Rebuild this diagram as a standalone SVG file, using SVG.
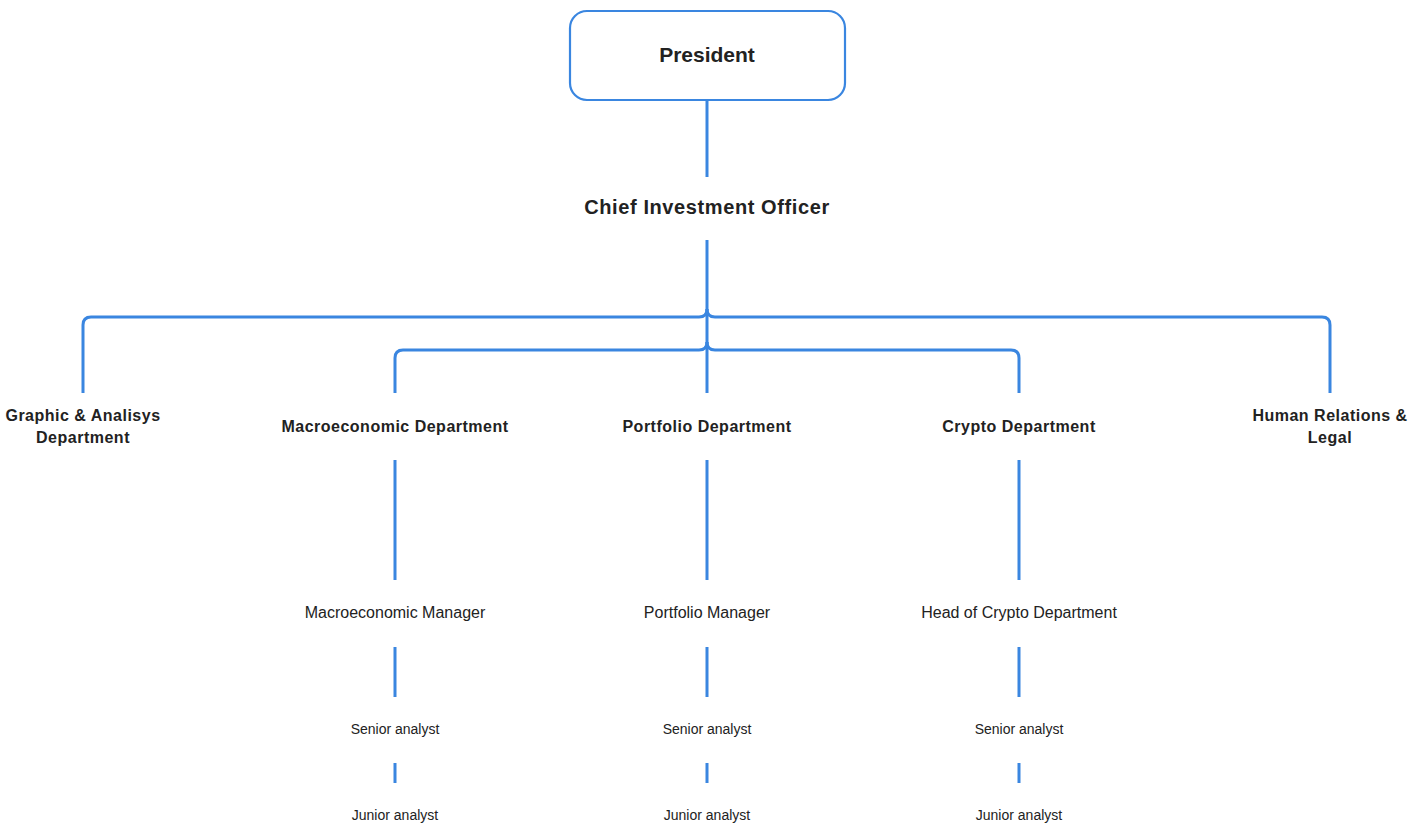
<svg xmlns="http://www.w3.org/2000/svg" width="1427" height="827" viewBox="0 0 1427 827">
<style>
.c{fill:none;stroke:#3a86e0;stroke-width:3;stroke-linecap:butt}
.t{font-family:"Liberation Sans",Arial,sans-serif;fill:#222;text-anchor:middle}
.b{font-weight:bold}
.d{font-size:16px;letter-spacing:0.5px}
.m{font-size:16px}
.s{font-size:14px}
</style>
<rect width="1427" height="827" fill="#fff"/>
<g id="connectors">
<path class="c" d="M707,101 V177"/>
<path class="c" d="M707,240 V393"/>
<path class="c" d="M707,309 Q707,317 699,317 H91 Q83,317 83,325 V393"/>
<path class="c" d="M707,309 Q707,317 715,317 H1322 Q1330,317 1330,325 V393"/>
<path class="c" d="M707,342 Q707,350 699,350 H403 Q395,350 395,358 V393"/>
<path class="c" d="M707,342 Q707,350 715,350 H1011 Q1019,350 1019,358 V393"/>
<path class="c" d="M395,460 V580 M707,460 V580 M1019,460 V580"/>
<path class="c" d="M395,647 V697 M707,647 V697 M1019,647 V697"/>
<path class="c" d="M395,763 V783 M707,763 V783 M1019,763 V783"/>
</g>
<g id="president">
<rect x="570" y="11" width="275" height="89" rx="17" fill="#fff" stroke="#3a86e0" stroke-width="2.2"/>
<text class="t b" x="707" y="62" font-size="21">President</text>
</g>
<g id="cio"><text class="t b" x="707" y="214" font-size="20" letter-spacing="0.6">Chief Investment Officer</text></g>
<g id="graphic"><text class="t b d" x="83" y="421">Graphic &amp; Analisys</text><text class="t b d" x="83" y="443">Department</text></g>
<g id="macro"><text class="t b d" x="395" y="432">Macroeconomic Department</text></g>
<g id="portfolio"><text class="t b d" x="707" y="432">Portfolio Department</text></g>
<g id="crypto"><text class="t b d" x="1019" y="432">Crypto Department</text></g>
<g id="hr"><text class="t b d" x="1330" y="421">Human Relations &amp;</text><text class="t b d" x="1330" y="443">Legal</text></g>
<g id="macro-mgr"><text class="t m" x="395" y="618">Macroeconomic Manager</text></g>
<g id="portfolio-mgr"><text class="t m" x="707" y="618">Portfolio Manager</text></g>
<g id="crypto-head"><text class="t m" x="1019" y="618">Head of Crypto Department</text></g>
<g id="macro-senior"><text class="t s" x="395" y="734">Senior analyst</text></g>
<g id="portfolio-senior"><text class="t s" x="707" y="734">Senior analyst</text></g>
<g id="crypto-senior"><text class="t s" x="1019" y="734">Senior analyst</text></g>
<g id="macro-junior"><text class="t s" x="395" y="820">Junior analyst</text></g>
<g id="portfolio-junior"><text class="t s" x="707" y="820">Junior analyst</text></g>
<g id="crypto-junior"><text class="t s" x="1019" y="820">Junior analyst</text></g>
</svg>
